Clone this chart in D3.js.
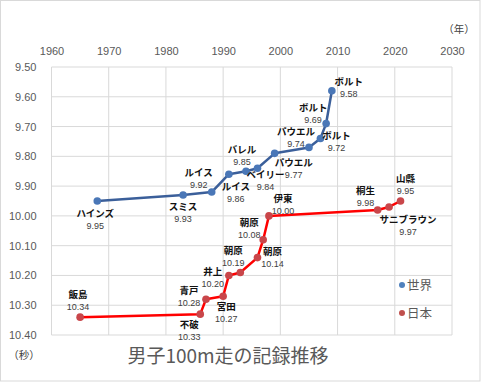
<!DOCTYPE html>
<html>
<head>
<meta charset="utf-8">
<script src="https://cdn.jsdelivr.net/npm/d3@7"></script>
<style>
  body { margin: 0; background: #fff; }
  svg text { font-family: "Noto Sans CJK JP", "Noto Sans", sans-serif; }
</style>
</head>
<body>
<div id="chart"></div>
<script>
// world record progression
var worldYears = [1968, 1983, 1988, 1991, 1994, 1996, 1999, 2005, 2007, 2008, 2009];
var worldTimes = [9.95, 9.93, 9.92, 9.86, 9.85, 9.84, 9.79, 9.77, 9.74, 9.69, 9.58];
var worldNames = ["ハインズ", "スミス", "ルイス", "ルイス", "バレル", "ベイリー", "パウエル", "パウエル", "ボルト", "ボルト", "ボルト"];
var worldLabels = ["9.95", "9.93", "9.92", "9.86", "9.85", "9.84", "9.77", "9.74", "9.72", "9.69", "9.58"];

// japanese record progression
var japanYears = [1965, 1986, 1987, 1990, 1991, 1993, 1996, 1997, 1998, 2017, 2019, 2021];
var japanTimes = [10.34, 10.33, 10.28, 10.27, 10.20, 10.19, 10.14, 10.08, 10.00, 9.98, 9.97, 9.95];
var japanNames = ["飯島", "不破", "青戸", "宮田", "井上", "朝原", "朝原", "朝原", "伊東", "桐生", "サニブラウン", "山縣"];
var japanLabels = ["10.34", "10.33", "10.28", "10.27", "10.20", "10.19", "10.14", "10.08", "10.00", "9.98", "9.97", "9.95"];

var yearTicks = [1960, 1970, 1980, 1990, 2000, 2010, 2020, 2030];
var timeTicks = [9.5, 9.6, 9.7, 9.8, 9.9, 10.0, 10.1, 10.2, 10.3, 10.4];

// label offsets from the point (name centre x, name baseline y)
var worldLabelPos = [[-2, 16], [0, 15], [-13, -16], [7, 16], [-4, -18], [8, 10], [19, 13], [-13, -12], [16, 1], [-13, -13], [17, -6]];
var japanLabelPos = [[-2, -19], [-11, 14], [-17, -5], [3, 14], [-16, -0], [-7, -18], [15, -3], [-14, -14], [14, -14], [-12, -16], [19, 16], [5, -19]];

var W = 481, H = 382;
var plotLeft = 51.5, plotRight = 452, plotTop = 67, plotBottom = 335;

var svg = d3.select("#chart").append("svg")
    .attr("width", W).attr("height", H);

svg.append("rect")
    .attr("x", 0.5).attr("y", 0.5)
    .attr("width", W - 1.5).attr("height", H - 1.5)
    .attr("fill", "#fff").attr("stroke", "#d9d9d9");

var x = d3.scaleLinear().domain([1960, 2030]).range([plotLeft, plotRight]);
var y = d3.scaleLinear().domain([9.5, 10.4]).range([plotTop, plotBottom]);

// grid
svg.append("g").selectAll("line").data(yearTicks).enter().append("line")
    .attr("x1", d => x(d)).attr("x2", d => x(d))
    .attr("y1", plotTop).attr("y2", plotBottom)
    .attr("stroke", "#d9d9d9");
svg.append("g").selectAll("line").data(timeTicks).enter().append("line")
    .attr("x1", plotLeft).attr("x2", plotRight)
    .attr("y1", d => y(d)).attr("y2", d => y(d))
    .attr("stroke", "#d9d9d9");

// axes
var xAxis = svg.append("g").attr("transform", "translate(0," + plotTop + ")")
    .call(d3.axisTop(x).tickValues(yearTicks).tickFormat(d3.format("d")).tickSize(0).tickPadding(12));
var yAxis = svg.append("g").attr("transform", "translate(" + plotLeft + ",0)")
    .call(d3.axisLeft(y).tickValues(timeTicks).tickFormat(d3.format(".2f")).tickSize(0).tickPadding(15));
[xAxis, yAxis].forEach(function(a) {
    a.select(".domain").remove();
    a.selectAll("text")
        .style("font-family", "'Liberation Sans', sans-serif")
        .style("font-size", "11px")
        .attr("fill", "#595959");
});

svg.append("text").attr("x", 459).attr("y", 33)
    .attr("text-anchor", "middle").attr("font-size", 10.5).attr("fill", "#404040")
    .text("（年）");
svg.append("text").attr("x", 24).attr("y", 359)
    .attr("text-anchor", "middle").attr("font-size", 10.5).attr("fill", "#404040")
    .text("（秒）");

function drawSeries(years, times, names, labels, pos, lineColor, dotColor) {
    var pts = years.map((yr, i) => ({ yr: yr, t: times[i], name: names[i], label: labels[i], p: pos[i] }));
    var line = d3.line().x(d => x(d.yr)).y(d => y(d.t));
    svg.append("path").datum(pts)
        .attr("d", line)
        .attr("fill", "none")
        .attr("stroke", lineColor)
        .attr("stroke-width", 2.5)
        .attr("stroke-linejoin", "round");
    svg.append("g").selectAll("circle").data(pts).enter().append("circle")
        .attr("cx", d => x(d.yr)).attr("cy", d => y(d.t))
        .attr("r", 3.8)
        .attr("fill", dotColor);
    var g = svg.append("g").selectAll("g").data(pts).enter().append("g")
        .attr("transform", d => "translate(" + (x(d.yr) + d.p[0]) + "," + (y(d.t) + d.p[1]) + ")");
    g.append("text")
        .attr("text-anchor", "middle")
        .attr("font-size", 9.5)
        .attr("font-weight", "bold")
        .attr("fill", "#111")
        .text(d => d.name);
    g.append("text")
        .attr("y", 12)
        .attr("text-anchor", "middle")
        .attr("font-size", 9)
        .style("font-family", "'Liberation Sans', sans-serif")
        .attr("fill", "#404040")
        .text(d => d.label);
}

drawSeries(worldYears, worldTimes, worldNames, worldLabels, worldLabelPos, "#3b5f9a", "#4a77b7");
drawSeries(japanYears, japanTimes, japanNames, japanLabels, japanLabelPos, "#ff0000", "#c9464a");

// legend
var legend = [{ name: "世界", color: "#4f81bd" }, { name: "日本", color: "#c0504d" }];
var lg = svg.append("g").selectAll("g").data(legend).enter().append("g")
    .attr("transform", (d, i) => "translate(402," + (285 + i * 28) + ")");
lg.append("circle").attr("r", 3).attr("fill", d => d.color);
lg.append("text").attr("x", 5).attr("y", 4.5)
    .attr("font-size", 12.5).attr("fill", "#595959")
    .text(d => d.name);

// title
svg.append("text").attr("x", 228).attr("y", 363)
    .attr("text-anchor", "middle")
    .attr("font-size", 19)
    .attr("fill", "#595959")
    .text("男子100m走の記録推移");
</script>
</body>
</html>
